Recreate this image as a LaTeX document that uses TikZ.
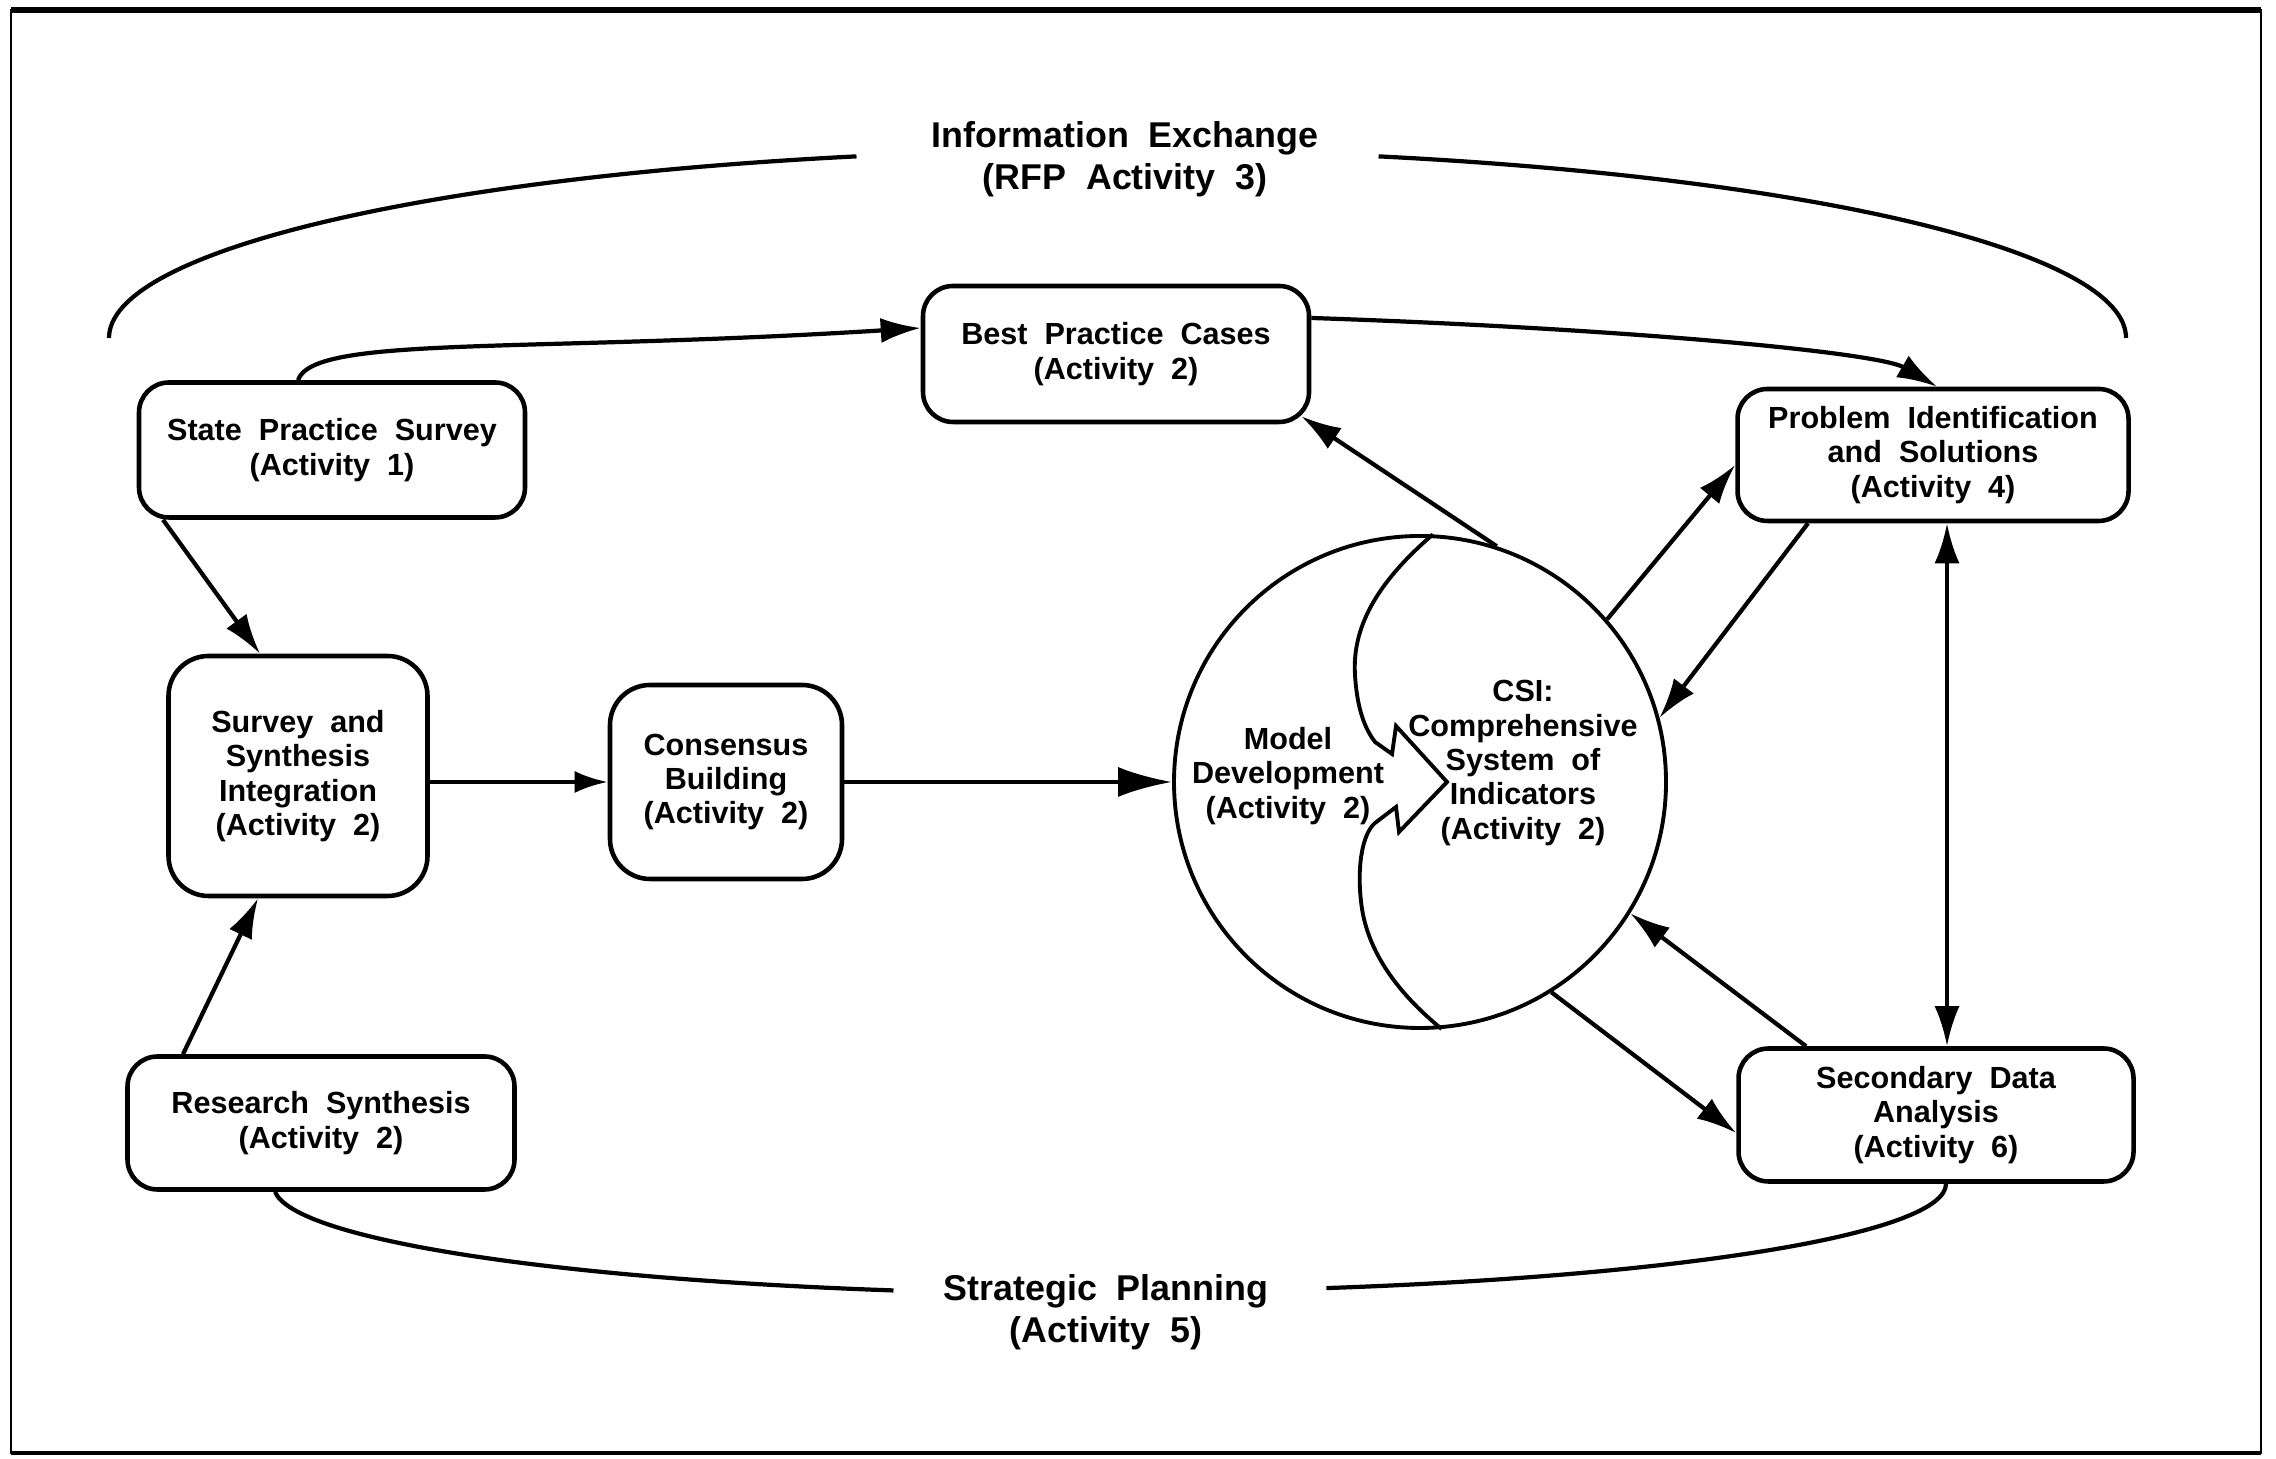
\documentclass[tikz,border=0pt]{standalone}
\usepackage{fontspec}
\setmainfont{Liberation Sans}[WordSpace=2]
\usetikzlibrary{arrows.meta}
\newcommand{\actfont}{\fontsize{8.7}{9.8}\selectfont\bfseries}
\newcommand{\headfont}{\fontsize{10.2}{12}\selectfont\bfseries}

\begin{document}
\begin{tikzpicture}[>={Latex[length=4mm,width=2.5mm]},
  actbox/.style={draw, line width=1.3pt, rounded corners=0.3cm, align=center,
    font=\actfont, inner sep=0pt},
  arrowline/.style={line width=1.2pt, ->},
  cycleline/.style={line width=1.2pt}]
  \useasboundingbox (0,0) rectangle (22.76,14.59);

  % Frame
  \draw[line width=0.6pt] (0.11,0.06) rectangle (22.61,14.49);
  \draw[line width=1.6pt] (0.11,14.49) -- (22.61,14.49);
  \draw[line width=1.2pt] (0.11,0.06) -- (22.61,0.06);

  % Activity boxes
  \node[actbox, minimum width=3.86cm, minimum height=1.36cm] (bpc) at (11.16,11.05)
    {Best Practice Cases\\(Activity 2)};
  \node[actbox, minimum width=3.86cm, minimum height=1.35cm] (sps) at (3.32,10.09)
    {State Practice Survey\\(Activity 1)};
  \node[actbox, rounded corners=0.4cm, minimum width=2.59cm, minimum height=2.40cm]
    (ssi) at (2.98,6.83) {Survey and\\Synthesis\\Integration\\(Activity 2)};
  \node[actbox, rounded corners=0.4cm, minimum width=2.32cm, minimum height=1.94cm]
    (cb) at (7.26,6.77) {Consensus\\Building\\(Activity 2)};
  \node[actbox, minimum width=3.87cm, minimum height=1.33cm] (rs) at (3.21,3.36)
    {Research Synthesis\\(Activity 2)};
  \node[actbox, minimum width=3.91cm, minimum height=1.32cm] (pis) at (19.33,10.04)
    {Problem Identification\\and Solutions\\(Activity 4)};
  \node[actbox, minimum width=3.95cm, minimum height=1.33cm] (sda) at (19.36,3.44)
    {Secondary Data\\Analysis\\(Activity 6)};

  % Model circle with CSI part
  \node[circle, draw, line width=1.1pt, minimum size=4.92cm, inner sep=0pt]
    (mdl) at (14.20,6.77) {};
  \draw[line width=1.1pt] (mdl.87) .. controls (13.75,8.75) and (13.52,8.30) .. (13.55,7.84)
    .. controls (13.57,7.50) and (13.65,7.30) .. (13.75,7.17) -- (13.92,7.05)
    -- (13.96,7.33) -- (14.47,6.77) -- (13.99,6.27) -- (13.96,6.52) -- (13.75,6.36)
    .. controls (13.62,6.25) and (13.56,5.90) .. (13.62,5.50)
    .. controls (13.70,5.00) and (14.05,4.60) .. (mdl.-85);
  \node[font=\actfont, align=center] (mdltxt) at (12.88,6.83)
    {Model\\Development\\(Activity 2)};
  \node[font=\actfont, align=center] (csi) at (15.23,6.96)
    {CSI:\\Comprehensive\\System of\\Indicators\\(Activity 2)};

  % Headings
  \node[font=\headfont, align=center] (info) at (11.25,13.00)
    {Information Exchange\\(RFP Activity 3)};
  \node[font=\headfont, align=center] (plan) at (11.06,1.47)
    {Strategic Planning\\(Activity 5)};

  % Outer cycle lines
  \coordinate (ixl) at (1.09,11.21);
  \coordinate (ixr) at (21.26,11.21);
  \draw[cycleline] (ixl) arc[start angle=180, end angle=105, x radius=10.085, y radius=1.88];
  \draw[cycleline] (ixr) arc[start angle=0, end angle=75, x radius=10.085, y radius=1.88];
  \draw[cycleline] ([xshift=-0.46cm]rs.south)
    arc[start angle=183, end angle=255, x radius=8.36, y radius=1.08];
  \draw[cycleline] ([xshift=0.1cm]sda.south)
    arc[start angle=360, end angle=285, x radius=8.36, y radius=1.08];

  % Connectors
  \draw[arrowline] ([xshift=-0.34cm]sps.north) .. controls +(0.15,0.45) and +(-4,-0.25)
    .. ([yshift=0.26cm]bpc.west);
  \draw[arrowline] ([yshift=0.36cm]bpc.east) .. controls +(3,-0.1) and +(-0.6,0.35)
    .. ([xshift=0.04cm]pis.north);
  \draw[arrowline] (mdl.72) -- ([xshift=-0.1cm,yshift=0.08cm]bpc.south east);
  \draw[arrowline] (mdl.41) -- ([yshift=-0.1cm]pis.west);
  \draw[arrowline] ([xshift=-1.25cm]pis.south) -- (mdl.15);
  \draw[arrowline, <->] ([xshift=0.14cm]pis.south) -- ([xshift=0.14cm]pis.south |- sda.north);
  \draw[arrowline] ([xshift=-1.3cm]sda.north) -- (mdl.-32);
  \draw[arrowline] (mdl.-58) -- ([yshift=-0.18cm]sda.west);
  \draw[arrowline] ([xshift=-1.69cm]sps.south) -- ([xshift=-0.38cm]ssi.north);
  \draw[arrowline] ([xshift=-1.38cm]rs.north) -- ([xshift=-0.4cm]ssi.south);
  \draw[arrowline, >={Latex[length=3.3mm,width=2.2mm]}] (ssi.east |- cb.west) -- (cb.west);
  \draw[arrowline, >={Latex[length=5.4mm,width=3mm]}] (cb) -- (mdl);
\end{tikzpicture}
\end{document}
